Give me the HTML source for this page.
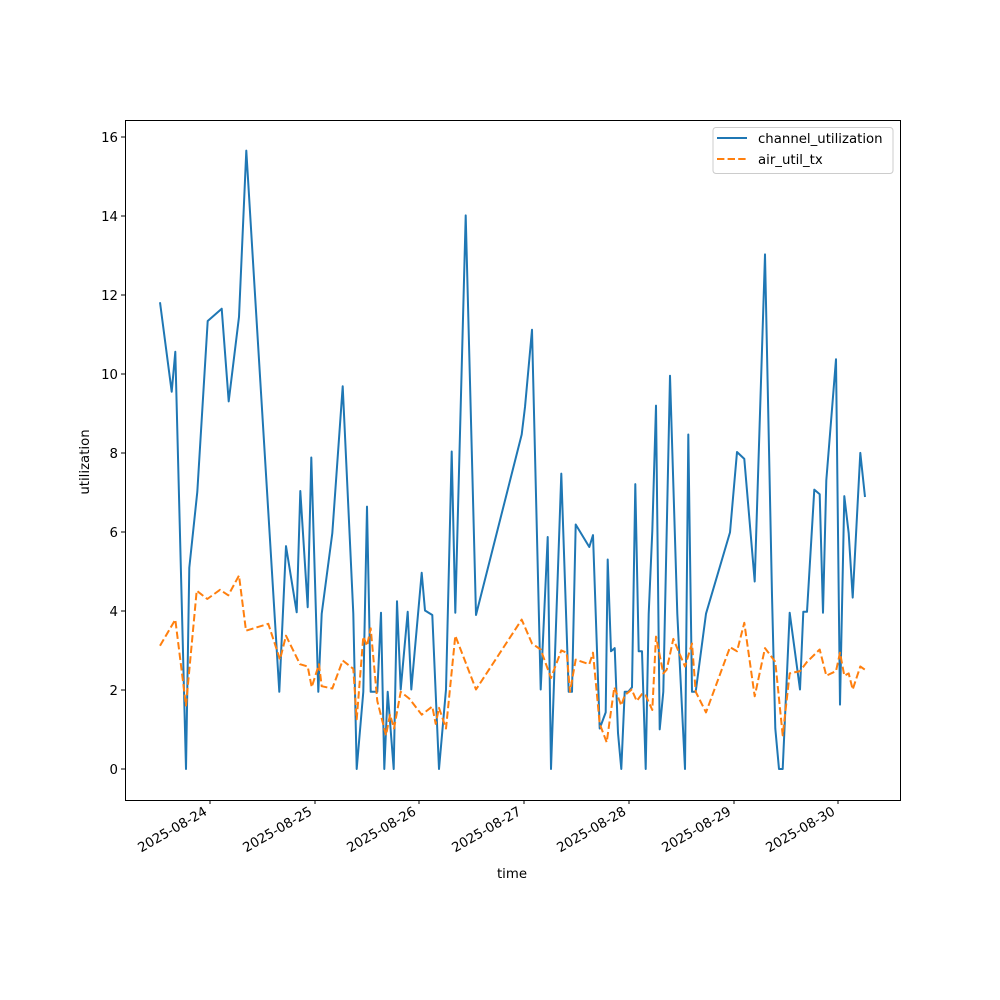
<!DOCTYPE html>
<html><head><meta charset="utf-8"><style>body{margin:0;background:#fff}svg{display:block}text{font-family:"DejaVu Sans","Liberation Sans",sans-serif;font-size:13.3px;fill:#000}</style></head><body>
<svg width="1000" height="1000" viewBox="0 0 1000 1000" xmlns="http://www.w3.org/2000/svg">
<rect width="1000" height="1000" fill="#fff"/>
<defs><clipPath id="c"><rect x="125" y="120" width="775" height="680"/></clipPath></defs>
<g clip-path="url(#c)" fill="none" stroke-width="2" stroke-linejoin="round">
<polyline stroke="#1f77b4" points="160,302.2 171.7,391.8 175.3,351.8 186,769 189.3,567.7 197.3,491.9 207.7,321 221.7,308.7 228.7,401.4 239,316.9 246.3,150.6 254.3,282.9 279.3,691.8 286,546.1 296.7,612.3 300.3,491 307.7,607.2 311.3,457.5 318.3,691.8 321.7,613.7 332.3,533.3 342.7,386.3 353.3,613.7 356.7,769 363.3,691.8 367,506.6 370.7,691.8 377.3,691.8 381,612.7 384.3,769 387.7,691.8 393.7,769 397,601.3 400.7,689.5 407.7,611.8 411.3,689.5 421.7,572.8 425,610.5 432.3,615 439,769 446,689.5 451.7,451.5 455.3,612.7 465.7,215.4 476,615 521.7,434.5 525,407 532,329.8 540.7,689.5 547.7,537 551,769 561.3,473.6 568.7,691.8 572,691.8 575.7,524.5 589.3,547 593,535.1 599.7,728.5 605.7,712.4 607.7,559.5 611,651.3 614.7,648.1 618,733 621.3,769 624.7,691.8 628.3,691.8 632,687.2 635.3,484.1 638.7,651.3 642,651.3 645.7,769 648.7,613.7 652.3,531 656,405.6 659.7,729.4 663.3,691.8 670,375.7 677.3,613.7 685,769 688.3,434.5 692,691.8 695.7,691.8 706,613.7 730,532.4 737,452 744.3,458.9 754.7,581.5 765,254.4 772,595.3 775.3,728.5 779,769 782.7,769 789.7,612.7 800,689.5 803.3,611.8 807,611.8 814.3,489.6 819.7,494.2 823,612.7 826.3,480.4 836,359.2 840,704.6 844.3,496.1 848.7,533.3 852.7,597.6 860.3,452.9 865,497"/>
<polyline stroke="#ff7f0e" stroke-dasharray="7.4,3.2" points="160,645.8 175.3,619.6 186,705.5 196.7,590.7 207.3,599 220,589.8 228.3,595.3 239,575.5 246,630.7 268.3,623.8 280,659.6 286,635.7 300,664.2 307.7,666.5 311.7,687.2 319,664.2 321.7,686.2 332.3,688.5 342.7,660.5 353.3,668.8 356.7,719.3 363.3,636.6 367,645.8 370.7,628.4 377.3,701 386,735.4 390,714.7 394,728.5 400.7,691.8 409.3,698.6 421.7,714.7 432.3,706.5 435.7,723.9 439,707.8 446,728.5 455.3,635.7 476,689.5 521.7,619.6 532,643.5 540.7,649.5 551,678 561.3,650.4 566.7,652.7 570,691.8 575.7,659.6 589.3,664.2 593,652.7 599.7,723.9 606.7,742.3 614.3,687.2 621.3,705.5 624.7,695.4 631.7,689.5 636.7,701 642,694 645.7,695.4 652.3,710 656,636.6 663.3,673.4 666.7,669.7 673.3,638.9 685,666.5 692,643.5 695.7,691.8 706,712.4 730,647.2 737,651.3 744.3,622.8 754.7,696.3 765,648.1 775.3,661.9 782.7,735.4 789.7,673.4 800,671.1 807,661.9 819.7,649.5 826.3,675.7 836,671.1 840,652.7 844.3,675.7 848.7,673.4 852.7,689.5 860.3,666.5 865,669.7"/>
</g>
<rect x="125.5" y="120.5" width="775" height="680" fill="none" stroke="#000" stroke-width="1"/>
<g stroke="#000" stroke-width="1">
<line x1="121" x2="125" y1="769" y2="769"/><line x1="121" x2="125" y1="690" y2="690"/><line x1="121" x2="125" y1="611" y2="611"/><line x1="121" x2="125" y1="532" y2="532"/><line x1="121" x2="125" y1="453" y2="453"/><line x1="121" x2="125" y1="374" y2="374"/><line x1="121" x2="125" y1="295" y2="295"/><line x1="121" x2="125" y1="216" y2="216"/><line x1="121" x2="125" y1="137" y2="137"/>
<line x1="210" x2="210" y1="800" y2="804"/><line x1="315" x2="315" y1="800" y2="804"/><line x1="419" x2="419" y1="800" y2="804"/><line x1="524" x2="524" y1="800" y2="804"/><line x1="629" x2="629" y1="800" y2="804"/><line x1="734" x2="734" y1="800" y2="804"/><line x1="838" x2="838" y1="800" y2="804"/>
</g>
<g text-anchor="end">
<text x="118" y="774">0</text><text x="118" y="695">2</text><text x="118" y="616">4</text><text x="118" y="537">6</text><text x="118" y="458">8</text><text x="118" y="379">10</text><text x="118" y="300">12</text><text x="118" y="221">14</text><text x="118" y="142">16</text>
<text transform="translate(208,814) rotate(-30)">2025-08-24</text>
<text transform="translate(313,814) rotate(-30)">2025-08-25</text>
<text transform="translate(417,814) rotate(-30)">2025-08-26</text>
<text transform="translate(522,814) rotate(-30)">2025-08-27</text>
<text transform="translate(627,814) rotate(-30)">2025-08-28</text>
<text transform="translate(732,814) rotate(-30)">2025-08-29</text>
<text transform="translate(836,814) rotate(-30)">2025-08-30</text>
</g>
<text x="512" y="878" text-anchor="middle">time</text>
<text transform="translate(89,462) rotate(-90)" text-anchor="middle">utilization</text>
<rect x="713" y="127.5" width="180" height="46" rx="3" fill="#fff" stroke="#ccc" stroke-width="1"/>
<line x1="717" x2="747" y1="138" y2="138" stroke="#1f77b4" stroke-width="2"/>
<line x1="717" x2="747" y1="159" y2="159" stroke="#ff7f0e" stroke-width="2" stroke-dasharray="7.4,3.2"/>
<text x="758" y="143">channel_utilization</text>
<text x="758" y="164">air_util_tx</text>
</svg>
</body></html>
